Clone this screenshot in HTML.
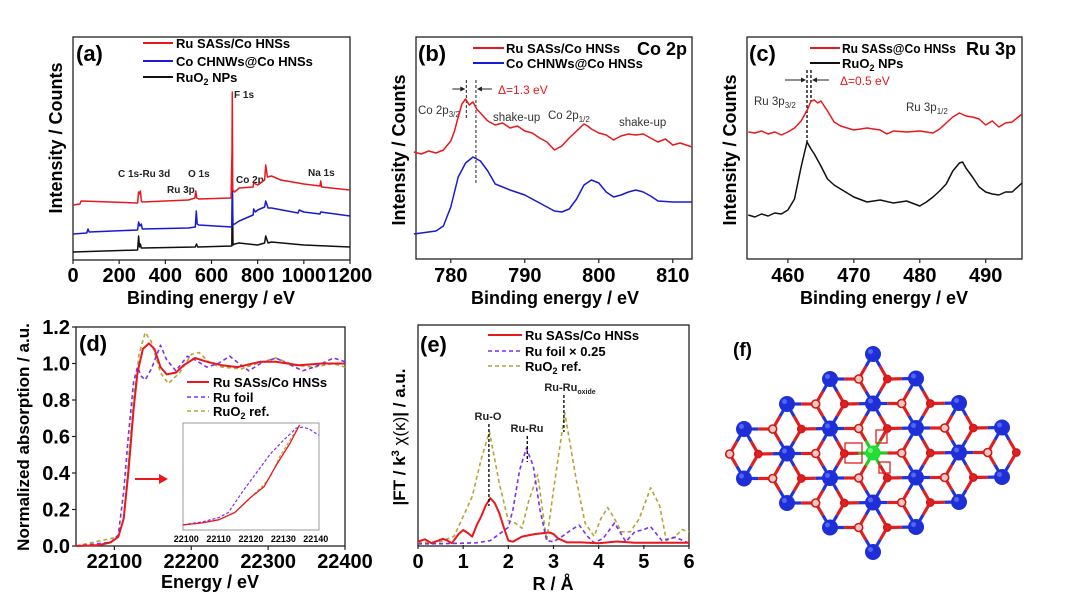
<!DOCTYPE html>
<html><head><meta charset="utf-8">
<style>
html,body{margin:0;padding:0;background:#fff;}
svg{display:block;font-family:"Liberation Sans",Arial,sans-serif;}
.b{font-weight:bold;}
</style></head>
<body>
<svg id="fig" width="1080" height="597" viewBox="0 0 1080 597" xmlns="http://www.w3.org/2000/svg">
<rect width="1080" height="597" fill="#fff"/>

<!-- Panel a static -->
<g>
 <rect x="73" y="37" width="277" height="223" fill="none" stroke="#222" stroke-width="1.3"/>
 <text x="76" y="61" font-size="22" class="b">(a)</text>
 <text transform="translate(62,138) rotate(-90)" text-anchor="middle" font-size="18" class="b">Intensity / Counts</text>
 <text x="211" y="304" text-anchor="middle" font-size="18" class="b">Binding energy / eV</text>
 <g>
  <line x1="143" y1="43" x2="173" y2="43" stroke="#e8181e" stroke-width="2"/>
  <text x="176" y="48" font-size="13" class="b">Ru SASs/Co HNSs</text>
  <line x1="143" y1="61" x2="173" y2="61" stroke="#1a1ad0" stroke-width="2"/>
  <text x="176" y="66" font-size="13" class="b">Co CHNWs@Co HNSs</text>
  <line x1="143" y1="77" x2="173" y2="77" stroke="#111" stroke-width="2"/>
  <text x="176" y="82" font-size="13" class="b">RuO<tspan font-size="9" dy="3">2</tspan><tspan dy="-3"> NPs</tspan></text>
 </g>
 <g font-size="10" class="b" fill="#222">
  <text x="234" y="98">F 1s</text>
  <text x="118" y="177">C 1s-Ru 3d</text>
  <text x="188" y="177">O 1s</text>
  <text x="167" y="193">Ru 3p</text>
  <text x="236" y="183">Co 2p</text>
  <text x="308" y="176">Na 1s</text>
 </g>
 <g id="ticks-a"></g><g id="series-a"></g>
</g>

<!-- Panel b -->
<g>
 <rect x="416" y="37" width="276" height="222" fill="none" stroke="#222" stroke-width="1.3"/>
 <text x="418" y="61" font-size="22" class="b">(b)</text>
 <text x="637" y="55" font-size="18" class="b">Co 2p</text>
 <text transform="translate(405,150) rotate(-90)" text-anchor="middle" font-size="18" class="b">Intensity / Counts</text>
 <text x="555" y="304" text-anchor="middle" font-size="18" class="b">Binding energy / eV</text>
 <g>
  <line x1="473" y1="48" x2="504" y2="48" stroke="#e8181e" stroke-width="2"/>
  <text x="506" y="53" font-size="13" class="b">Ru SASs/Co HNSs</text>
  <line x1="473" y1="63" x2="504" y2="63" stroke="#1a1ad0" stroke-width="2"/>
  <text x="506" y="68" font-size="13" class="b">Co CHNWs@Co HNSs</text>
 </g>
 <g font-size="11.5" fill="#333">
  <text x="418" y="114">Co 2p<tspan font-size="8" dy="3">3/2</tspan></text>
  <text x="493" y="121">shake-up</text>
  <text x="548" y="119">Co 2p<tspan font-size="8" dy="3">1/2</tspan></text>
  <text x="619" y="126">shake-up</text>
  <text x="498" y="94" fill="#e8181e" font-size="12">Δ=1.3 eV</text>
 </g>
 <g id="delta-b"></g>
 <g id="ticks-b"></g><g id="series-b"></g>
</g>

<!-- Panel c -->
<g>
 <rect x="747" y="37" width="275" height="222" fill="none" stroke="#222" stroke-width="1.3"/>
 <text x="749" y="61" font-size="22" class="b">(c)</text>
 <text x="966" y="55" font-size="18" class="b">Ru 3p</text>
 <text transform="translate(736,150) rotate(-90)" text-anchor="middle" font-size="18" class="b">Intensity / Counts</text>
 <text x="884" y="304" text-anchor="middle" font-size="18" class="b">Binding energy / eV</text>
 <g>
  <line x1="810" y1="48" x2="840" y2="48" stroke="#e8181e" stroke-width="2"/>
  <text x="842" y="53" font-size="13" class="b" textLength="114" lengthAdjust="spacingAndGlyphs">Ru SASs@Co HNSs</text>
  <line x1="810" y1="63" x2="840" y2="63" stroke="#111" stroke-width="2"/>
  <text x="842" y="68" font-size="13" class="b">RuO<tspan font-size="9" dy="3">2</tspan><tspan dy="-3"> NPs</tspan></text>
 </g>
 <g font-size="11.5" fill="#333">
  <text x="754" y="105">Ru 3p<tspan font-size="8" dy="3">3/2</tspan></text>
  <text x="906" y="111">Ru 3p<tspan font-size="8" dy="3">1/2</tspan></text>
  <text x="840" y="85" fill="#e8181e" font-size="12">Δ=0.5 eV</text>
 </g>
 <g id="delta-c"></g>
 <g id="ticks-c"></g><g id="series-c"></g>
</g>

<!-- Panel d -->
<g>
 <rect x="76" y="327" width="269" height="219" fill="none" stroke="#222" stroke-width="1.3"/>
 <text x="79" y="351" font-size="22" class="b">(d)</text>
 <text transform="translate(29,437) rotate(-90)" text-anchor="middle" font-size="17" class="b">Normalized absorption / a.u.</text>
 <text x="210" y="588" text-anchor="middle" font-size="18" class="b">Energy / eV</text>
 <g>
  <line x1="187" y1="382" x2="209" y2="382" stroke="#e8181e" stroke-width="2"/>
  <text x="213" y="387" font-size="13" class="b">Ru SASs/Co HNSs</text>
  <line x1="187" y1="397" x2="209" y2="397" stroke="#7b2ff0" stroke-width="1.6" stroke-dasharray="4,3"/>
  <text x="213" y="402" font-size="13" class="b">Ru foil</text>
  <line x1="187" y1="411" x2="209" y2="411" stroke="#b3a635" stroke-width="1.6" stroke-dasharray="4,3"/>
  <text x="213" y="416" font-size="13" class="b">RuO<tspan font-size="9" dy="3">2</tspan><tspan dy="-3"> ref.</tspan></text>
 </g>
 <g>
  <line x1="135" y1="479" x2="160" y2="479" stroke="#e8181e" stroke-width="2"/>
  <polygon points="159,474 168,479 159,484" fill="#e8181e"/>
 </g>
 <rect x="183" y="423" width="136" height="107" fill="#fff" stroke="#999" stroke-width="1"/>
 <g id="ticks-d"></g><g id="series-d"></g><g id="inset-d"></g>
</g>

<!-- Panel e -->
<g>
 <rect x="418" y="325" width="271" height="221" fill="none" stroke="#222" stroke-width="1.3"/>
 <text x="420" y="352" font-size="22" class="b">(e)</text>
 <text transform="translate(405,437) rotate(-90)" text-anchor="middle" font-size="17" class="b">|FT / k<tspan font-size="11" dy="-6">3</tspan><tspan dy="6" font-weight="normal"> χ(κ)</tspan>| / a.u.</text>
 <text x="553" y="590" text-anchor="middle" font-size="18" class="b">R / Å</text>
 <g>
  <line x1="488" y1="335" x2="522" y2="335" stroke="#e8181e" stroke-width="2"/>
  <text x="525" y="340" font-size="13" class="b">Ru SASs/Co HNSs</text>
  <line x1="488" y1="351" x2="522" y2="351" stroke="#7b2ff0" stroke-width="1.6" stroke-dasharray="4,3"/>
  <text x="525" y="356" font-size="13" class="b">Ru foil × 0.25</text>
  <line x1="488" y1="366" x2="522" y2="366" stroke="#b3a635" stroke-width="1.6" stroke-dasharray="4,3"/>
  <text x="525" y="371" font-size="13" class="b">RuO<tspan font-size="9" dy="3">2</tspan><tspan dy="-3"> ref.</tspan></text>
 </g>
 <g font-size="11" class="b" fill="#222" text-anchor="middle">
  <text x="488" y="420">Ru-O</text>
  <text x="527" y="432">Ru-Ru</text>
  <text x="570" y="391">Ru-Ru<tspan font-size="7" dy="3">oxide</tspan></text>
 </g>
 <g id="ticks-e"></g><g id="series-e"></g><g id="marks-e"></g>
</g>

<!-- Panel f -->
<g>
 <text x="733" y="356" font-size="19" class="b">(f)</text>
 <g id="structure-f"></g>
</g>
</svg>

<script>
// ---------- data: panel a ----------
const aRedE=[0,30,35,280,284,288,292,296,300,500,528,532,536,545,685,689,690,692,700,720,780,783,800,830,835,842,860,900,975,1000,1070,1073,1077,1200];
const aRedI=[55,56,59,57,68,66,69,59,58,60,62,69,62,61,62,110,168,70,68,72,73,77,75,80,95,83,84,80,77,76,74,79,73,70];
const aBlueE=[0,60,65,70,280,284,290,296,300,500,530,534,538,545,688,690,693,700,720,780,783,790,800,830,835,845,860,975,980,1000,1070,1073,1200];
const aBlueI=[26,27,31,28,30,38,34,36,31,32,33,49,36,35,33,75,35,36,39,45,51,48,50,53,59,52,52,47,50,48,46,48,44];
const aBlackE=[0,280,284,288,292,296,300,530,535,540,688,690,693,700,720,800,830,835,845,860,1000,1200];
const aBlackI=[8,10,24,13,16,12,12,13,16,13,14,75,15,16,17,15,17,24,17,18,15,13];
const aTicks=[0,200,400,600,800,1000,1200];
// ---------- data: panel b ----------
const bRedE=[775,776,777,778,779,780,780.5,781,781.5,782,782.5,783,783.5,784,785,786,787,788,789,790,791,792,793,794,795,796,797,798,798.5,799,800,801,802,803,804,805,806,807,808,809,810,811,812.6];
const bRedI=[107,105,108,106,109,118,128,142,155,160,154,157,150,146,138,134,136,131,133,128,126,121,117,109,113,121,128,135,133,130,126,124,119,123,125,124,125,121,117,120,114,116,112];
const bBlueE=[775,777,778,779,780,781,782,783,784,785,786,788,790,792,794,795,796,797,798,799,800,801,802,803,804,805,806,807,808,810,812.6];
const bBlueI=[25,27,28,33,52,82,96,102,98,88,75,69,64,56,48,47,50,60,74,79,76,67,62,64,67,69,67,63,58,57,57];
const bDelta=[782.1,783.4];
const bTicks=[780,790,800,810];
// ---------- data: panel c ----------
const cRedE=[454,455,456,457,458,459,460,461,462,463,463.5,464,464.5,465,466,467,468,470,472,474,475,476,478,480,482,483,484,485,486,487,488,489,490,491,492,493,494,495.5];
const cRedI=[127,126,128,125,127,124,127,131,138,150,158,159,156,158,148,137,133,129,131,129,125,128,127,128,126,130,136,142,146,143,142,140,134,138,132,136,137,145];
const cBlackE=[454,455,456,457,458,459,460,461,462,462.9,463.5,464,465,466,467,468,470,472,474,476,478,480,481,482,483,484,485,486,486.5,487,488,489,490,491,492,493,494,495.5];
const cBlackI=[44,42,45,43,46,45,49,60,92,117,110,105,93,80,74,70,62,57,59,56,58,53,57,62,68,75,88,96,97,91,82,72,67,65,64,67,67,76];
const cDelta=[462.9,463.5];
const cTicks=[460,470,480,490];
// ---------- data: panel d ----------
const dRedE=[22050,22080,22095,22105,22112,22118,22125,22130,22137,22145,22152,22160,22168,22180,22190,22205,22220,22240,22260,22290,22310,22340,22370,22400];
const dRedV=[0,0.005,0.02,0.05,0.15,0.4,0.75,0.95,1.08,1.11,1.08,0.98,0.94,0.95,0.99,1.03,1.01,0.99,0.98,1.01,1.01,0.99,1.0,1.0];
const dFoilE=[22050,22095,22105,22112,22118,22125,22130,22135,22140,22148,22160,22168,22180,22195,22205,22220,22235,22250,22262,22275,22290,22310,22330,22345,22360,22385,22400];
const dFoilV=[0,0.02,0.06,0.3,0.6,0.9,0.98,0.93,0.91,0.97,1.1,1.02,0.96,1.04,1.02,0.98,1.0,1.04,1.0,0.96,1.0,1.03,0.99,0.96,0.98,1.03,1.01];
const dOxE=[22050,22105,22112,22118,22125,22132,22140,22148,22160,22170,22185,22200,22210,22225,22240,22265,22285,22310,22335,22360,22385,22400];
const dOxV=[0,0.05,0.15,0.45,0.8,1.05,1.17,1.12,0.95,0.89,0.95,1.05,1.06,1.0,0.98,0.97,1.0,1.03,0.99,0.98,1.0,0.98];
const dXTicks=[22100,22200,22300,22400];
const dYTicks=["0.0","0.2","0.4","0.6","0.8","1.0","1.2"];
const insRedE=[22099,22105,22110,22115,22120,22124,22128,22132,22135];
const insRedV=[0.03,0.05,0.08,0.15,0.3,0.4,0.62,0.82,1.0];
const insFoilE=[22099,22105,22110,22113,22118,22122,22126,22130,22134,22136,22138,22141];
const insFoilV=[0.03,0.06,0.1,0.15,0.38,0.55,0.72,0.85,0.97,0.98,0.96,0.9];
const insOxE=[22099,22105,22110,22115,22120,22124,22126,22129,22132,22135];
const insOxV=[0.03,0.05,0.08,0.15,0.3,0.42,0.5,0.7,0.85,1.0];
const insTicks=[22100,22110,22120,22130,22140];
// ---------- data: panel e ----------
const eRedR=[0,0.15,0.3,0.45,0.55,0.65,0.75,0.9,1.0,1.1,1.2,1.3,1.4,1.5,1.6,1.7,1.8,1.9,2.0,2.1,2.3,2.6,2.9,3.0,3.1,3.3,3.6,4.0,4.4,4.8,6.0];
const eRedV=[0.015,0.026,0.008,0.02,0.028,0.02,0.008,0.05,0.068,0.055,0.038,0.09,0.13,0.18,0.213,0.19,0.145,0.08,0.02,0.015,0.038,0.05,0.057,0.05,0.03,0.012,0.012,0.008,0.016,0.01,0.01];
const eFoilR=[0,0.5,1.0,1.3,1.6,1.8,2.0,2.1,2.25,2.4,2.55,2.7,2.85,3.0,3.2,3.4,3.57,3.75,3.9,4.1,4.35,4.6,4.8,5.0,5.15,5.4,5.7,6.0];
const eFoilV=[0.005,0.006,0.008,0.01,0.02,0.05,0.08,0.16,0.34,0.44,0.36,0.16,0.02,0.015,0.04,0.07,0.09,0.04,0.01,0.03,0.1,0.015,0.06,0.07,0.083,0.02,0.035,0.008];
const eOxR=[0,0.5,0.8,1.0,1.2,1.4,1.58,1.8,2.0,2.15,2.3,2.45,2.65,2.85,3.0,3.25,3.5,3.7,3.9,4.05,4.2,4.35,4.5,4.7,4.9,5.15,5.35,5.5,5.7,5.85,6.0];
const eOxV=[0.01,0.015,0.04,0.13,0.22,0.39,0.515,0.28,0.11,0.1,0.076,0.2,0.32,0.02,0.25,0.6,0.3,0.1,0.04,0.12,0.17,0.12,0.06,0.06,0.12,0.26,0.18,0.02,0.04,0.07,0.06];
const eTicks=[0,1,2,3,4,5,6];
const eMarksR=[1.57,2.42,3.23];
// ---------- structure f ----------
const fRange=[-2,-1,0,1,2];

const NS="http://www.w3.org/2000/svg";
function el(tag,attrs,parent){const e=document.createElementNS(NS,tag);for(const k in attrs)e.setAttribute(k,attrs[k]);parent.appendChild(e);return e;}
function lin(d0,d1,r0,r1){return v=>r0+(v-d0)/(d1-d0)*(r1-r0);}
function pathD(xs,ys,sx,sy){return xs.map((x,i)=>(i?'L':'M')+sx(x).toFixed(1)+','+sy(ys[i]).toFixed(1)).join('');}
function series(g,xs,ys,sx,sy,color,name,dash,w){
  const p=el('path',{d:pathD(xs,ys,sx,sy),fill:'none',stroke:color,'stroke-width':w||1.5,'stroke-linejoin':'round'},g);
  if(dash)p.setAttribute('stroke-dasharray',dash);
  
  
  return p;
}
function xticks(g,ticks,sx,ybase,fs,labels,ly){
  ticks.forEach((t,i)=>{
    const l=el('line',{x1:sx(t),x2:sx(t),y1:ybase,y2:ybase+4,stroke:'#222','stroke-width':1.2},g);
    
    
    const tx=el('text',{x:sx(t),y:ly,'text-anchor':'middle','font-size':fs,'font-weight':'bold'},g);
    tx.textContent=labels?labels[i]:t;
    
    
  });
}

// panel a
(function(){
 const sx=lin(0,1200,73,350), sy=lin(0,223,260,37);
 const g=document.getElementById('series-a');
 series(g,aBlackE,aBlackI,sx,sy,'#111','series-ruo2-np-a');
 series(g,aBlueE,aBlueI,sx,sy,'#1a1ad0','series-co-chnws-a');
 series(g,aRedE,aRedI,sx,sy,'#e8181e','series-ru-sass-a');
 xticks(document.getElementById('ticks-a'),aTicks,sx,260,20,null,282);
})();
// panel b
(function(){
 const sx=lin(775.3,812.6,416,692), sy=lin(0,222,259,37);
 const g=document.getElementById('series-b');
 series(g,bBlueE,bBlueI,sx,sy,'#1a1ad0','series-co-chnws-b');
 series(g,bRedE,bRedI,sx,sy,'#e8181e','series-ru-sass-b');
 xticks(document.getElementById('ticks-b'),bTicks,sx,259,20,null,282);
 const dg=document.getElementById('delta-b');
 bDelta.forEach((v,i)=>{
   const l=el('line',{x1:sx(v),x2:sx(v),y1:80,y2:i?185:118,stroke:'#222','stroke-width':1,'stroke-dasharray':'3,2'},dg);
   
   
 });
 const a1=sx(bDelta[0]),a2=sx(bDelta[1]);
 el('line',{x1:a1-14,x2:a1-2,y1:89,y2:89,stroke:'#222','stroke-width':1},dg);
 el('polygon',{points:`${a1-1},89 ${a1-6},86.5 ${a1-6},91.5`,fill:'#222'},dg);
 el('line',{x1:a2+2,x2:a2+16,y1:89,y2:89,stroke:'#222','stroke-width':1},dg);
 el('polygon',{points:`${a2+1},89 ${a2+6},86.5 ${a2+6},91.5`,fill:'#222'},dg);
})();
// panel c
(function(){
 const sx=lin(453.8,495.5,747,1022), sy=lin(0,222,259,37);
 const g=document.getElementById('series-c');
 series(g,cBlackE,cBlackI,sx,sy,'#111','series-ruo2-np-c');
 series(g,cRedE,cRedI,sx,sy,'#e8181e','series-ru-sass-c');
 xticks(document.getElementById('ticks-c'),cTicks,sx,259,20,null,282);
 const dg=document.getElementById('delta-c');
 cDelta.forEach((v,i)=>{
   const l=el('line',{x1:sx(v),x2:sx(v),y1:70,y2:i?102:143,stroke:'#111','stroke-width':1.4,'stroke-dasharray':'3,2'},dg);
   
   
 });
 const a1=sx(cDelta[0]),a2=sx(cDelta[1]);
 el('line',{x1:a1-22,x2:a1-2,y1:80,y2:80,stroke:'#222','stroke-width':1},dg);
 el('polygon',{points:`${a1-1},80 ${a1-6},77.5 ${a1-6},82.5`,fill:'#222'},dg);
 el('line',{x1:a2+2,x2:a2+18,y1:80,y2:80,stroke:'#222','stroke-width':1},dg);
 el('polygon',{points:`${a2+1},80 ${a2+6},77.5 ${a2+6},82.5`,fill:'#222'},dg);
})();
// panel d
(function(){
 const sx=lin(22050,22400,76,345), sy=lin(0,1.2,546,327);
 const g=document.getElementById('series-d');
 series(g,dOxE,dOxV,sx,sy,'#b3a635','series-ruo2-ref-d','4,3',1.6);
 series(g,dFoilE,dFoilV,sx,sy,'#7b2ff0','series-ru-foil-d','4,3',1.6);
 series(g,dRedE,dRedV,sx,sy,'#e8181e','series-ru-sass-d',null,2);
 xticks(document.getElementById('ticks-d'),dXTicks,sx,546,20,null,568);
 const tg=document.getElementById('ticks-d');
 dYTicks.forEach(t=>{
   const y=sy(parseFloat(t));
   el('line',{x1:72,x2:76,y1:y,y2:y,stroke:'#222','stroke-width':1.2},tg);
   const tx=el('text',{x:70,y:y+7,'text-anchor':'end','font-size':20,'font-weight':'bold'},tg);
   tx.textContent=t;
   
   
 });
 const ix=lin(22099,22141,183,319), iy=lin(0,1,528,425);
 const ig=document.getElementById('inset-d');
 series(ig,insOxE,insOxV,ix,iy,'#b3a635','inset-ruo2-ref','3,2',1.2);
 series(ig,insFoilE,insFoilV,ix,iy,'#7b2ff0','inset-ru-foil','3,2',1.2);
 series(ig,insRedE,insRedV,ix,iy,'#e8181e','inset-ru-sass',null,1.3);
 insTicks.forEach(t=>{
   const tx=el('text',{x:ix(t),y:542,'text-anchor':'middle','font-size':9,'font-weight':'bold'},ig);
   tx.textContent=t;
   
   
 });
})();
// panel e
(function(){
 const sx=lin(0,6,418,689), sy=lin(0,1,545,325);
 const g=document.getElementById('series-e');
 series(g,eOxR,eOxV,sx,sy,'#b3a635','series-ruo2-ref-e','4,3',1.6);
 series(g,eFoilR,eFoilV,sx,sy,'#7b2ff0','series-ru-foil-e','4,3',1.6);
 series(g,eRedR,eRedV,sx,sy,'#e8181e','series-ru-sass-e',null,2);
 xticks(document.getElementById('ticks-e'),eTicks,sx,545,20,null,568);
 const mg=document.getElementById('marks-e');
 const spans=[[424,506],[436,462],[395,432]];
 eMarksR.forEach((r,i)=>{
   const l=el('line',{x1:sx(r),x2:sx(r),y1:spans[i][0],y2:spans[i][1],stroke:'#111','stroke-width':1.4,'stroke-dasharray':'3,2'},mg);
   
   
 });
})();
// panel f structure
(function(){
 const g=document.getElementById('structure-f');
 const C=[873,453], u=[43,24.5], v=[43,-25];
 const P=(i,j)=>[C[0]+i*u[0]+j*v[0], C[1]+i*u[1]+j*v[1]];
 const inSet=(i,j)=>i>=-2&&i<=2&&j>=-2&&j<=2&&!(i===-2&&j===-2)&&!(i===2&&j===2);
 const reds=[];
 for(let i=-3;i<=2;i++)for(let j=-3;j<=2;j++){
   const t1=[[i,j],[i+1,j],[i,j+1]], t2=[[i+1,j],[i,j+1],[i+1,j+1]];
   const a=P(i,j);
   if(t1.every(p=>inSet(...p))||(i===-2&&j===-2)) reds.push({x:a[0]+28.7,y:a[1],v:t1.filter(p=>inSet(...p)),light:true});
   if(t2.every(p=>inSet(...p))||(i===1&&j===1)) reds.push({x:a[0]+57.3,y:a[1],v:t2.filter(p=>inSet(...p)),light:false});
 }
 const bg=el('g',{},g);
 reds.forEach(r=>r.v.forEach(p=>{
   const b=P(...p);
   const mx=(b[0]+r.x)/2,my=(b[1]+r.y)/2;
   const center=(p[0]===0&&p[1]===0);
   el('line',{x1:b[0],y1:b[1],x2:mx,y2:my,stroke:center?'#22cc22':'#2233dd','stroke-width':3.2},bg);
   el('line',{x1:mx,y1:my,x2:r.x,y2:r.y,stroke:'#e02020','stroke-width':3.2},bg);
 }));
 reds.forEach(r=>{
   const c=el('circle',{cx:r.x,cy:r.y,r:r.light?4:3.6,fill:r.light?'#f3c8c0':'#e02020',stroke:'#d01818','stroke-width':1.6},g);
   
   
 });
 fRange.forEach(i=>fRange.forEach(j=>{
   if(!inSet(i,j)) return;
   const p=P(i,j);
   const ctr=(i===0&&j===0);
   const c=el('circle',{cx:p[0],cy:p[1],r:ctr?7.5:8,fill:ctr?'#22dd33':'#1f2fd8'},g);
   
   
   el('circle',{cx:p[0]-2.5,cy:p[1]-2.5,r:2.5,fill:ctr?'#9f9':'#6a7cff',opacity:0.7},g);
 }));
 [[845,443,17,20],[876,430,11,13],[879,462,11,11]].forEach(s=>{
   const r=el('rect',{x:s[0],y:s[1],width:s[2],height:s[3],fill:'none',stroke:'#e02020','stroke-width':1.3},g);
   
   
 });
})();
</script>
</body></html>
